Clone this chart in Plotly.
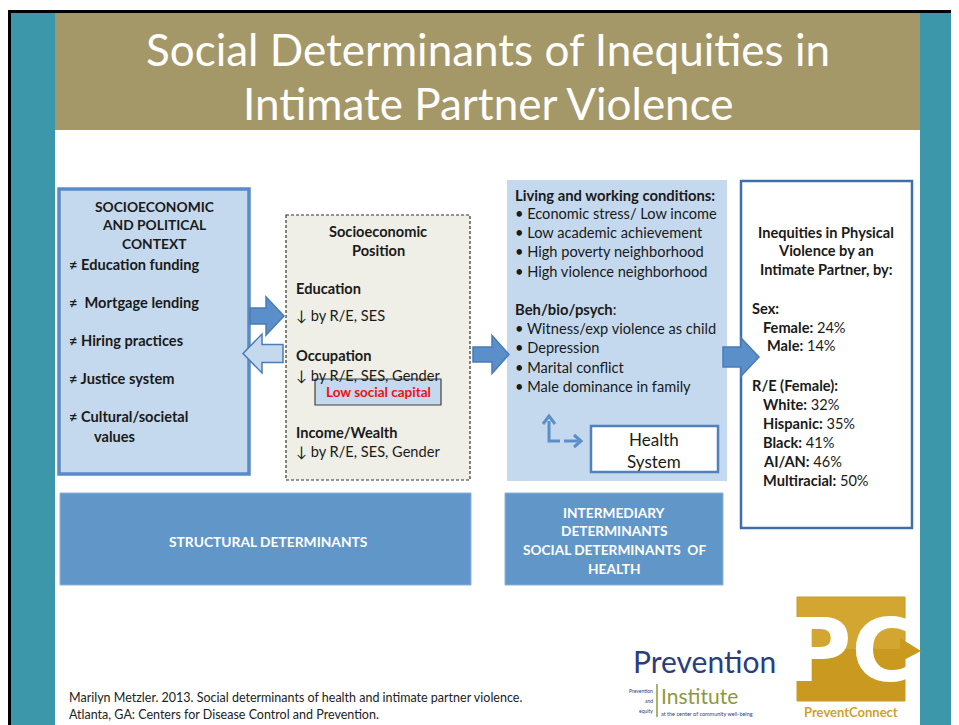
import plotly.graph_objects as go

# ---------------- data ----------------
title_lines = ["Social Determinants of Inequities in", "Intimate Partner Violence"]
context_header = ["SOCIOECONOMIC", "AND POLITICAL", "CONTEXT"]
context_items = ["Education funding", " Mortgage lending", "Hiring practices", "Justice system", "Cultural/societal"]
position_header = ["Socioeconomic", "Position"]
position_items = ["Education", "Occupation", "Income/Wealth"]
position_notes = ["by R/E, SES", "by R/E, SES, Gender", "by R/E, SES, Gender"]
living_items = ["Economic stress/ Low income", "Low academic achievement",
                "High poverty neighborhood", "High violence neighborhood"]
beh_items = ["Witness/exp violence as child", "Depression", "Marital conflict", "Male dominance in family"]
sex_labels = ["Female", "Male"]
sex_values = [24, 14]
re_labels = ["White", "Hispanic", "Black", "AI/AN", "Multiracial"]
re_values = [32, 35, 41, 46, 50]
footer_lines = ["Marilyn Metzler. 2013. Social determinants of health and intimate partner violence.",
                "Atlanta, GA: Centers for Disease Control and Prevention."]

# ---------------- styles ----------------
FONT = "Lato"
TEAL = "#3d97ab"
KHAKI = "#a59868"
LIGHT = "#c5d9ee"
MID = "#6196c9"
EDGE = "#5a8bc4"
DARK_EDGE = "#3f6fa8"
TXT = "#1a1a1a"

W, H = 959, 725
OFF = 8  # page body margin
fig = go.Figure()
shapes = []
ann = []


def rect(x0, y0, x1, y1, fill, line=None, lw=0, dash=None):
    d = dict(type="rect", xref="x", yref="y", x0=x0, y0=y0, x1=x1, y1=y1,
             fillcolor=fill, line=dict(width=lw, color=line or fill))
    if dash:
        d["line"]["dash"] = dash
    shapes.append(d)


def txt(x, y, s, size=14, color=TXT, anchor="left", bold=False, font=FONT):
    if bold:
        s = "<b>" + s + "</b>"
    ann.append(dict(x=x, y=y, xref="x", yref="y", text=s, showarrow=False,
                    xanchor=anchor, yanchor="middle", borderpad=0,
                    font=dict(size=size, color=color, family=font)))


def block_arrow(x0, x1, cy, sh, hh, hl, fill, line, direction="right"):
    if direction == "right":
        b = x1 - hl
        p = (f"M {x0},{cy-sh} L {b},{cy-sh} L {b},{cy-hh} L {x1},{cy} "
             f"L {b},{cy+hh} L {b},{cy+sh} L {x0},{cy+sh} Z")
    else:
        b = x0 + hl
        p = (f"M {x1},{cy-sh} L {b},{cy-sh} L {b},{cy-hh} L {x0},{cy} "
             f"L {b},{cy+hh} L {b},{cy+sh} L {x1},{cy+sh} Z")
    shapes.append(dict(type="path", xref="x", yref="y", path=p, fillcolor=fill,
                       line=dict(color=line, width=1.5)))


# background frame
rect(8, 10, W + 5, H + 5, "black")
rect(11, 13, W + 5, H + 5, "white")
rect(11, 13, 55, H + 5, TEAL)
rect(920, 13, W + 5, H + 5, TEAL)
rect(55, 13, 920, 130, KHAKI)

# title
for i, line in enumerate(title_lines):
    txt(488, 49 + i * 54, line, size=44, color="white", anchor="center", font="Lato")

# left context box
rect(59, 189, 249, 474, LIGHT, EDGE, 3.5)
for i, s in enumerate(context_header):
    txt(154, 206 + i * 18.5, s, size=13.8, anchor="center", bold=True)
for i, s in enumerate(context_items):
    txt(68, 264 + i * 38, "≠ " + s, size=14.6, bold=True)
txt(93, 436, "values", size=14.6, bold=True)

# dashed socioeconomic position box
rect(286, 215, 470, 480, "#efefe7", "#333333", 1.2, dash="3px,2px")
for i, s in enumerate(position_header):
    txt(378, 231 + i * 19, s, size=14.6, anchor="center", bold=True)
for i, (s, n) in enumerate(zip(position_items, position_notes)):
    ys = [288, 355, 432][i]
    txt(295, ys, s, size=14.6, bold=True)
    txt(295, ys + [27, 20, 19][i], "↓ " + n, size=14.6)
rect(315, 379, 441, 405, LIGHT, "#404040", 1.2)
txt(378, 392, "Low social capital", size=13.5, color="#ee1111", anchor="center", bold=True)

# block arrows between left boxes
block_arrow(250, 284, 316, 8, 19, 18, "#5b8fc9", "#4a7cb6", "right")
block_arrow(243, 283, 353.5, 9, 19.5, 19, LIGHT, "#4a7cb6", "left")

# middle box
rect(507, 180, 727, 481, LIGHT)
txt(514, 195, "Living and working conditions:", size=14.8, bold=True)
for i, s in enumerate(living_items):
    txt(514, 213 + i * 19.4, "• " + s, size=14.6)
txt(514, 309, "<b>Beh/bio/psych</b>:", size=14.8)
for i, s in enumerate(beh_items):
    txt(514, 328 + i * 19.6, "• " + s, size=14.6)

# health system box and elbow arrow
rect(591, 426, 718, 472, "white", "#4f81bd", 2.5)
txt(654, 439, "Health", size=17, anchor="center")
txt(654, 461, "System", size=17, anchor="center")
shapes.append(dict(type="path", xref="x", yref="y",
                   path="M 549,421 L 549,441 L 560,441", line=dict(color="#5b8fc9", width=3)))
shapes.append(dict(type="line", xref="x", yref="y", x0=564, y0=441, x1=578, y1=441,
                   line=dict(color="#5b8fc9", width=3)))
shapes.append(dict(type="path", xref="x", yref="y",
                   path="M 543,424 L 549,416 L 555,424", line=dict(color="#5b8fc9", width=3)))
shapes.append(dict(type="path", xref="x", yref="y",
                   path="M 574,435 L 581,441 L 574,447", line=dict(color="#5b8fc9", width=3)))

block_arrow(473, 509, 354.5, 7.5, 19, 17, "#5b8fc9", "#4a7cb6", "right")

# right inequities box
rect(741, 181, 912, 528, "white", DARK_EDGE, 2.5)
for i, s in enumerate(["Inequities in Physical", "Violence by an", "Intimate Partner, by:"]):
    txt(826, 232 + i * 18.5, s, size=14.6, anchor="center", bold=True)
txt(751, 308, "Sex:", size=14.6, bold=True)
for i, (lab, v) in enumerate(zip(sex_labels, sex_values)):
    txt([762, 766][i], 327 + i * 18.5, f"<b>{lab}:</b> {v}%", size=14.6)
txt(751, 385, "R/E (Female):", size=14.6, bold=True)
for i, (lab, v) in enumerate(zip(re_labels, re_values)):
    txt(762, 404 + i * 19.2, f"<b>{lab}:</b> {v}%", size=14.6)

block_arrow(723, 759, 357, 10, 19, 18, "#5b8fc9", "#4a7cb6", "right")

# bottom category boxes
rect(60, 493, 471, 585, MID, "#8fb1d8", 1)
txt(268, 541, "STRUCTURAL DETERMINANTS", size=13.8, color="white", anchor="center", bold=True)
rect(505, 493, 723, 585, MID, "#8fb1d8", 1)
for i, s in enumerate(["INTERMEDIARY", "DETERMINANTS", "SOCIAL DETERMINANTS  OF", "HEALTH"]):
    txt(614, 512 + i * 18.8, s, size=13.7, color="white", anchor="center", bold=True)

# footer citation
for i, s in enumerate(footer_lines):
    txt(68, 697 + i * 17, s, size=12.5, color="#222222")

# Prevention Institute logo
txt(704, 661, "Prevention", size=30, color="#2a3d7d", anchor="center", font="Lato")
txt(660, 695, "Institute", size=21, color="#8b9a3c", anchor="left", font="Lato")
shapes.append(dict(type="line", xref="x", yref="y", x0=657, y0=684, x1=657, y1=717,
                   line=dict(color="#8b9a3c", width=1.5)))
txt(654, 691, "Prevention", size=5, color="#2a3d7d", anchor="right")
txt(654, 701, "and", size=5, color="#2a3d7d", anchor="right")
txt(654, 711, "equity", size=5, color="#2a3d7d", anchor="right")
txt(660, 714, "at the center of community well-being", size=5.5, color="#2a3d7d", anchor="left")

# PreventConnect logo
rect(797, 597, 905, 701, "#d3a631", "#c79a22", 1)
rect(797, 649, 905, 701, "#c99a1f")
shapes.append(dict(type="path", xref="x", yref="y", path="M 900,638 L 921,651 L 900,662 Z",
                   fillcolor="#c99a1f", line=dict(width=0)))
txt(851, 650, "PC", size=88, color="white", anchor="center", bold=True, font="DejaVu Sans")
txt(851, 712, "<b>PreventConnect</b>", size=13, color="#d0a02c", anchor="center")

fig.update_layout(
    width=W - OFF, height=H - OFF, margin=dict(l=0, r=0, t=0, b=0),
    paper_bgcolor="white", plot_bgcolor="white",
    xaxis=dict(range=[OFF, W], visible=False, fixedrange=True),
    yaxis=dict(range=[H, OFF], visible=False, fixedrange=True),
    shapes=shapes, annotations=ann, showlegend=False,
)
fig.write_html("out.html")
